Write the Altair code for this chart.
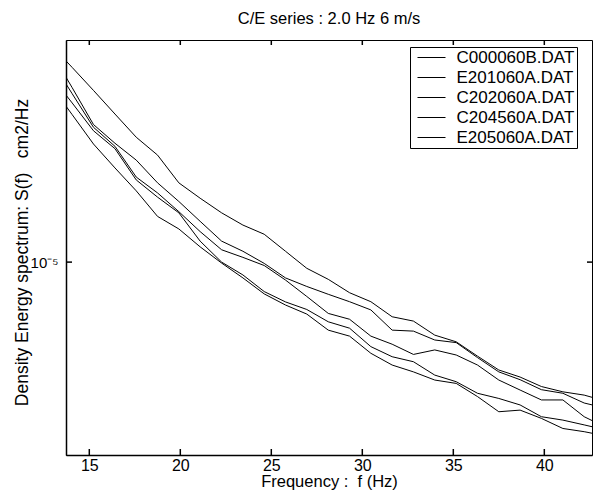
import altair as alt
import pandas as pd

FONT = "Liberation Sans"

names = ["C000060B.DAT", "E201060A.DAT", "C202060A.DAT", "C204560A.DAT", "E205060A.DAT"]

# frequency bins (Hz)
freq = [12.89, 14.06, 15.23, 16.41, 17.58, 18.75, 19.92, 21.09, 22.27, 23.44,
        24.61, 25.78, 26.95, 28.13, 29.30, 30.47, 31.64, 32.81, 33.98, 35.16,
        36.33, 37.50, 38.67, 39.84, 41.02, 42.19, 43.36]

# spectra in units of 1e-6 cm2/Hz
s_c000060b = [38.8, 33.7, 29.2, 25.2, 21.8, 19.5, 16.4, 14.9, 13.6, 12.6, 11.9, 10.7, 9.62, 8.98,
              8.26, 7.81, 7.11, 6.92, 6.34, 6.08, 5.56, 5.10, 4.88, 4.60, 4.45, 4.36, 4.20]
s_e201060a = [37.2, 29.7, 23.6, 21.0, 18.9, 16.4, 14.6, 12.9, 11.4, 10.7, 9.92, 9.06, 8.59, 8.18,
              7.81, 7.42, 6.54, 6.50, 6.15, 6.05, 5.51, 5.04, 4.80, 4.51, 4.41, 4.15, 4.02]
s_c202060a = [35.3, 28.6, 23.2, 20.6, 17.0, 15.4, 13.7, 12.1, 10.8, 10.3, 9.79, 8.94, 8.07, 7.26,
              7.00, 6.30, 5.99, 5.62, 5.78, 5.60, 5.26, 4.79, 4.50, 4.23, 4.23, 3.81, 3.57]
s_c204560a = [32.0, 27.0, 22.7, 20.3, 16.7, 15.0, 13.6, 11.4, 10.0, 9.23, 8.32, 7.80, 7.44, 6.89,
              6.62, 5.90, 5.54, 5.37, 4.94, 4.74, 4.41, 4.27, 4.10, 3.81, 3.73, 3.62, 3.51]
s_e205060a = [30.1, 25.1, 20.9, 18.0, 15.6, 13.3, 12.3, 11.0, 9.94, 9.06, 8.20, 7.65, 7.23, 6.54,
              6.30, 5.66, 5.26, 5.04, 4.79, 4.69, 4.32, 3.93, 3.97, 3.77, 3.54, 3.47, 3.38]

x_ticks = [15, 20, 25, 30, 35, 40]
y_ticks = [1e-5]

series = [s_c000060b, s_e201060a, s_c202060a, s_c204560a, s_e205060a]
rows = []
for name, vals in zip(names, series):
    for f, v in zip(freq, vals):
        rows.append({"name": name, "f": f, "S": v * 1e-6})
df = pd.DataFrame(rows)

xs = alt.Scale(domain=[13.72, 42.62], nice=False, zero=False)
ys = alt.Scale(type="log", domain=[3e-6, 4e-5], nice=False)

xaxis = alt.Axis(values=x_ticks, title="Frequency :\u00a0 f (Hz)", grid=False, ticks=False, tickSize=0,
                 domainColor="black", domainWidth=1.5, labelFont=FONT, labelFontSize=16,
                 labelColor="black", labelPadding=2, labelFlush=False, titleFont=FONT,
                 titleFontSize=16.5, titleFontWeight="normal", titleColor="black", titlePadding=0)
yaxis = alt.Axis(values=y_ticks, labelExpr="'10\u207b\u2075'",
                 title="Density Energy spectrum: S(f)\u00a0\u00a0 cm2/Hz", grid=False, ticks=False,
                 tickSize=0, domainColor="black", domainWidth=1.5, labelFont=FONT, labelFontSize=15,
                 labelColor="black", labelPadding=8, titleFont=FONT, titleFontSize=17.5,
                 titleFontWeight="normal", titleColor="black", titleX=-44, titleY=212,
                 titleAngle=270, titleAlign="center", titleBaseline="middle")

X = alt.X("f:Q", scale=xs, axis=xaxis)
Y = alt.Y("S:Q", scale=ys, axis=yaxis)

lines = alt.Chart(df).mark_line(strokeWidth=1, clip=True).encode(
    x=X,
    y=Y,
    color=alt.Color("name:N", sort=names,
                    scale=alt.Scale(domain=names, range=["black"] * 5),
                    legend=alt.Legend(title=None, orient="none", legendX=344, legendY=7,
                                      symbolType="M-1.75,0H1.75", symbolSize=256,
                                      symbolStrokeWidth=1, symbolStrokeColor="black",
                                      symbolFillColor="transparent", symbolOffset=11,
                                      labelFont=FONT, labelFontSize=17, labelColor="black",
                                      labelOffset=16.5, rowPadding=2, padding=2,
                                      strokeColor="black", fillColor="white", cornerRadius=0,
                                      labelExpr="datum.label + '\u00a0\u00a0\u00a0'")),
)

xt = pd.DataFrame({"f": x_ticks})
yt = pd.DataFrame({"S": y_ticks})
tick_style = dict(color="black", strokeWidth=1.5)
bottom = alt.Chart(xt).mark_rule(**tick_style).encode(x=X, y=alt.value(415), y2=alt.value(409))
top = alt.Chart(xt).mark_rule(**tick_style).encode(x=X, y=alt.value(0), y2=alt.value(5))
left = alt.Chart(yt).mark_rule(**tick_style).encode(y=Y, x=alt.value(0), x2=alt.value(6))
right = alt.Chart(yt).mark_rule(**tick_style).encode(y=Y, x=alt.value(526), x2=alt.value(521))

chart = alt.layer(lines, bottom, top, left, right).properties(
    width=526, height=415,
    padding={"left": 66, "top": 40, "right": 1, "bottom": 43},
    autosize=alt.AutoSizeParams(type="none"),
    title=alt.TitleParams("C/E series : 2.0 Hz 6 m/s", font=FONT, fontSize=16.5,
                          fontWeight="normal", color="black", offset=12, anchor="middle"),
).configure_view(stroke="black", strokeWidth=1)

chart.save("out.html", embed_options={"renderer": "svg", "actions": False})
